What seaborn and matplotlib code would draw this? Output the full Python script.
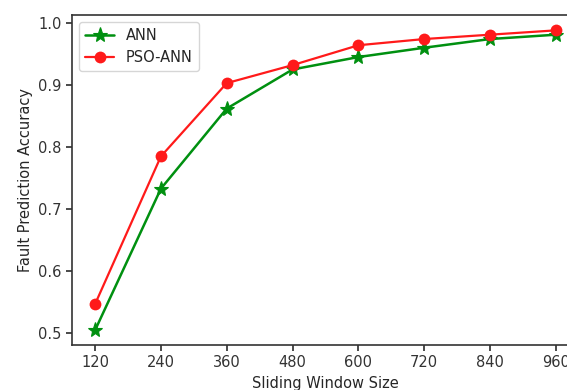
import matplotlib
matplotlib.use("Agg")
import matplotlib.pyplot as plt
import seaborn as sns
import pandas as pd

window_sizes = [120, 240, 360, 480, 600, 720, 840, 960]
ann_acc = [0.505, 0.733, 0.862, 0.925, 0.945, 0.960, 0.974, 0.981]
pso_ann_acc = [0.547, 0.785, 0.903, 0.932, 0.964, 0.974, 0.981, 0.988]
series_names = ["ANN", "PSO-ANN"]
x_label = "Sliding Window Size"
y_label = "Fault Prediction Accuracy"

sns.set_theme(style="ticks")
plt.rcParams["font.family"] = ["DejaVu Sans"]
plt.rcParams["font.size"] = 10.5

W, H, DPI = 567, 390, 100
fig = plt.figure(figsize=(W / DPI, H / DPI), dpi=DPI)
ax = fig.add_axes([72 / W, (H - 345) / H, (579 - 72) / W, (345 - 15) / H])

df_ann = pd.DataFrame({"x": window_sizes, "y": ann_acc})
df_pso = pd.DataFrame({"x": window_sizes, "y": pso_ann_acc})

sns.lineplot(data=df_ann, x="x", y="y", ax=ax, color="#009010", marker="*",
             markersize=11, markeredgewidth=0.8, markeredgecolor="#009010",
             linewidth=1.8, label=series_names[0])
sns.lineplot(data=df_pso, x="x", y="y", ax=ax, color="#ff1a1a", marker="o",
             markersize=8.5, markeredgewidth=0, linewidth=1.6, label=series_names[1])

ax.set_xticks(window_sizes)
ax.set_xticklabels([str(v) for v in window_sizes], fontsize=10.5)
ax.set_yticks([0.5, 0.6, 0.7, 0.8, 0.9, 1.0])
ax.set_yticklabels(["0.5", "0.6", "0.7", "0.8", "0.9", "1.0"], fontsize=10.5)
ax.set_xlim(78, 1002)
ax.set_ylim(0.4813, 1.0127)
ax.set_xlabel(x_label, fontsize=10.5)
ax.set_ylabel(y_label, fontsize=10.5)
for s in ax.spines.values():
    s.set_color("#333333")
    s.set_linewidth(1.2)
ax.tick_params(colors="#333333", length=4)
ax.legend(loc="upper left", fontsize=10.5, frameon=True)

fig.savefig("out.png", dpi=DPI)
